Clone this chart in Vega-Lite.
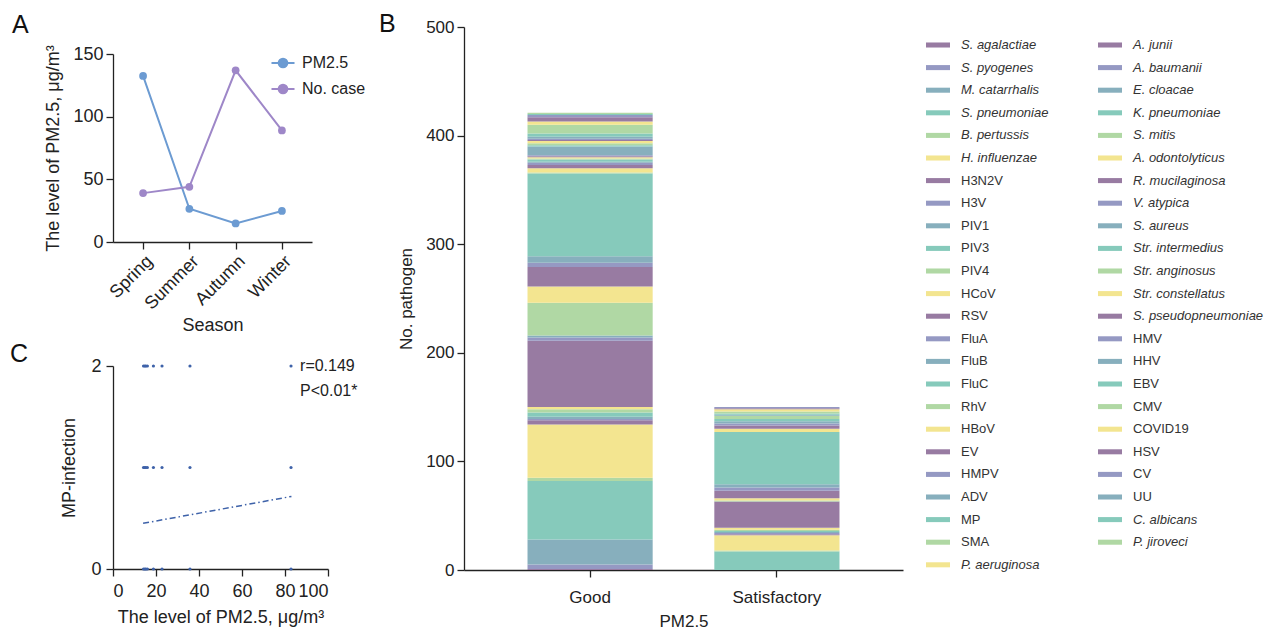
{
  "$schema": "https://vega.github.io/schema/vega-lite/v6.json",
  "padding": {"left": 10, "top": 12, "right": 0, "bottom": 0},
  "background": "white",
  "datasets": {
    "seasons": [
      {"season": "Spring", "series": "PM2.5", "value": 132.5},
      {"season": "Summer", "series": "PM2.5", "value": 26.5},
      {"season": "Autumn", "series": "PM2.5", "value": 14.8},
      {"season": "Winter", "series": "PM2.5", "value": 24.8},
      {"season": "Spring", "series": "No. case", "value": 39},
      {"season": "Summer", "series": "No. case", "value": 44},
      {"season": "Autumn", "series": "No. case", "value": 137},
      {"season": "Winter", "series": "No. case", "value": 89}
    ],
    "points": [
      {"pm": 14.2, "mp": 0}, {"pm": 14.8, "mp": 0}, {"pm": 15.3, "mp": 0}, {"pm": 16.0, "mp": 0},
      {"pm": 18.8, "mp": 0}, {"pm": 22.8, "mp": 0}, {"pm": 35.8, "mp": 0}, {"pm": 82.8, "mp": 0},
      {"pm": 14.2, "mp": 1}, {"pm": 14.8, "mp": 1}, {"pm": 15.3, "mp": 1}, {"pm": 16.0, "mp": 1},
      {"pm": 18.8, "mp": 1}, {"pm": 22.8, "mp": 1}, {"pm": 35.8, "mp": 1}, {"pm": 82.8, "mp": 1},
      {"pm": 14.2, "mp": 2}, {"pm": 14.8, "mp": 2}, {"pm": 15.3, "mp": 2}, {"pm": 16.0, "mp": 2},
      {"pm": 18.8, "mp": 2}, {"pm": 22.8, "mp": 2}, {"pm": 35.8, "mp": 2}, {"pm": 82.8, "mp": 2}
    ],
    "fit": [
      {"pm": 14, "fit": 0.45},
      {"pm": 83, "fit": 0.715}
    ],
    "pathogens": [
      {"level": "Good", "pathogen": "S. agalactiae", "k": 0, "n": 1},
      {"level": "Good", "pathogen": "S. pyogenes", "k": 1, "n": 4},
      {"level": "Good", "pathogen": "M. catarrhalis", "k": 2, "n": 23},
      {"level": "Good", "pathogen": "S. pneumoniae", "k": 3, "n": 54},
      {"level": "Good", "pathogen": "B. pertussis", "k": 4, "n": 3},
      {"level": "Good", "pathogen": "H. influenzae", "k": 5, "n": 49},
      {"level": "Good", "pathogen": "H3N2V", "k": 6, "n": 4},
      {"level": "Good", "pathogen": "H3V", "k": 7, "n": 1},
      {"level": "Good", "pathogen": "PIV1", "k": 8, "n": 2},
      {"level": "Good", "pathogen": "PIV3", "k": 9, "n": 4},
      {"level": "Good", "pathogen": "PIV4", "k": 10, "n": 3},
      {"level": "Good", "pathogen": "HCoV", "k": 11, "n": 2},
      {"level": "Good", "pathogen": "RSV", "k": 12, "n": 61},
      {"level": "Good", "pathogen": "FluA", "k": 13, "n": 3},
      {"level": "Good", "pathogen": "FluB", "k": 14, "n": 2},
      {"level": "Good", "pathogen": "FluC", "k": 15, "n": 0},
      {"level": "Good", "pathogen": "RhV", "k": 16, "n": 30},
      {"level": "Good", "pathogen": "HBoV", "k": 17, "n": 15},
      {"level": "Good", "pathogen": "EV", "k": 18, "n": 18},
      {"level": "Good", "pathogen": "HMPV", "k": 19, "n": 4},
      {"level": "Good", "pathogen": "ADV", "k": 20, "n": 6},
      {"level": "Good", "pathogen": "MP", "k": 21, "n": 76},
      {"level": "Good", "pathogen": "SMA", "k": 22, "n": 1},
      {"level": "Good", "pathogen": "P. aeruginosa", "k": 23, "n": 4},
      {"level": "Good", "pathogen": "A. junii", "k": 24, "n": 3},
      {"level": "Good", "pathogen": "A. baumanii", "k": 25, "n": 2},
      {"level": "Good", "pathogen": "E. cloacae", "k": 26, "n": 1},
      {"level": "Good", "pathogen": "K. pneumoniae", "k": 27, "n": 2},
      {"level": "Good", "pathogen": "S. mitis", "k": 28, "n": 1},
      {"level": "Good", "pathogen": "A. odontolyticus", "k": 29, "n": 1},
      {"level": "Good", "pathogen": "R. mucilaginosa", "k": 30, "n": 1},
      {"level": "Good", "pathogen": "V. atypica", "k": 31, "n": 1},
      {"level": "Good", "pathogen": "S. aureus", "k": 32, "n": 8},
      {"level": "Good", "pathogen": "Str. intermedius", "k": 33, "n": 1},
      {"level": "Good", "pathogen": "Str. anginosus", "k": 34, "n": 2},
      {"level": "Good", "pathogen": "Str. constellatus", "k": 35, "n": 2},
      {"level": "Good", "pathogen": "S. pseudopneumoniae", "k": 36, "n": 1},
      {"level": "Good", "pathogen": "HMV", "k": 37, "n": 1},
      {"level": "Good", "pathogen": "HHV", "k": 38, "n": 2},
      {"level": "Good", "pathogen": "EBV", "k": 39, "n": 3},
      {"level": "Good", "pathogen": "CMV", "k": 40, "n": 8},
      {"level": "Good", "pathogen": "COVID19", "k": 41, "n": 3},
      {"level": "Good", "pathogen": "HSV", "k": 42, "n": 4},
      {"level": "Good", "pathogen": "CV", "k": 43, "n": 2},
      {"level": "Good", "pathogen": "UU", "k": 44, "n": 0},
      {"level": "Good", "pathogen": "C. albicans", "k": 45, "n": 1},
      {"level": "Good", "pathogen": "P. jiroveci", "k": 46, "n": 1},
      {"level": "Satisfactory", "pathogen": "S. agalactiae", "k": 0, "n": 0},
      {"level": "Satisfactory", "pathogen": "S. pyogenes", "k": 1, "n": 0},
      {"level": "Satisfactory", "pathogen": "M. catarrhalis", "k": 2, "n": 0},
      {"level": "Satisfactory", "pathogen": "S. pneumoniae", "k": 3, "n": 17},
      {"level": "Satisfactory", "pathogen": "B. pertussis", "k": 4, "n": 1},
      {"level": "Satisfactory", "pathogen": "H. influenzae", "k": 5, "n": 14},
      {"level": "Satisfactory", "pathogen": "H3N2V", "k": 6, "n": 1},
      {"level": "Satisfactory", "pathogen": "H3V", "k": 7, "n": 1},
      {"level": "Satisfactory", "pathogen": "PIV1", "k": 8, "n": 1},
      {"level": "Satisfactory", "pathogen": "PIV3", "k": 9, "n": 1},
      {"level": "Satisfactory", "pathogen": "PIV4", "k": 10, "n": 1},
      {"level": "Satisfactory", "pathogen": "HCoV", "k": 11, "n": 2},
      {"level": "Satisfactory", "pathogen": "RSV", "k": 12, "n": 24},
      {"level": "Satisfactory", "pathogen": "FluA", "k": 13, "n": 0},
      {"level": "Satisfactory", "pathogen": "FluB", "k": 14, "n": 0},
      {"level": "Satisfactory", "pathogen": "FluC", "k": 15, "n": 0},
      {"level": "Satisfactory", "pathogen": "RhV", "k": 16, "n": 1},
      {"level": "Satisfactory", "pathogen": "HBoV", "k": 17, "n": 2},
      {"level": "Satisfactory", "pathogen": "EV", "k": 18, "n": 7},
      {"level": "Satisfactory", "pathogen": "HMPV", "k": 19, "n": 3},
      {"level": "Satisfactory", "pathogen": "ADV", "k": 20, "n": 3},
      {"level": "Satisfactory", "pathogen": "MP", "k": 21, "n": 48},
      {"level": "Satisfactory", "pathogen": "SMA", "k": 22, "n": 0},
      {"level": "Satisfactory", "pathogen": "P. aeruginosa", "k": 23, "n": 3},
      {"level": "Satisfactory", "pathogen": "A. junii", "k": 24, "n": 3},
      {"level": "Satisfactory", "pathogen": "A. baumanii", "k": 25, "n": 2},
      {"level": "Satisfactory", "pathogen": "E. cloacae", "k": 26, "n": 2},
      {"level": "Satisfactory", "pathogen": "K. pneumoniae", "k": 27, "n": 2},
      {"level": "Satisfactory", "pathogen": "S. mitis", "k": 28, "n": 3},
      {"level": "Satisfactory", "pathogen": "A. odontolyticus", "k": 29, "n": 0},
      {"level": "Satisfactory", "pathogen": "R. mucilaginosa", "k": 30, "n": 0},
      {"level": "Satisfactory", "pathogen": "V. atypica", "k": 31, "n": 0},
      {"level": "Satisfactory", "pathogen": "S. aureus", "k": 32, "n": 1},
      {"level": "Satisfactory", "pathogen": "Str. intermedius", "k": 33, "n": 1},
      {"level": "Satisfactory", "pathogen": "Str. anginosus", "k": 34, "n": 2},
      {"level": "Satisfactory", "pathogen": "Str. constellatus", "k": 35, "n": 2},
      {"level": "Satisfactory", "pathogen": "S. pseudopneumoniae", "k": 36, "n": 0},
      {"level": "Satisfactory", "pathogen": "HMV", "k": 37, "n": 0},
      {"level": "Satisfactory", "pathogen": "HHV", "k": 38, "n": 0},
      {"level": "Satisfactory", "pathogen": "EBV", "k": 39, "n": 0},
      {"level": "Satisfactory", "pathogen": "CMV", "k": 40, "n": 0},
      {"level": "Satisfactory", "pathogen": "COVID19", "k": 41, "n": 0},
      {"level": "Satisfactory", "pathogen": "HSV", "k": 42, "n": 1},
      {"level": "Satisfactory", "pathogen": "CV", "k": 43, "n": 1},
      {"level": "Satisfactory", "pathogen": "UU", "k": 44, "n": 0},
      {"level": "Satisfactory", "pathogen": "C. albicans", "k": 45, "n": 0},
      {"level": "Satisfactory", "pathogen": "P. jiroveci", "k": 46, "n": 0}
    ]
  },
  "hconcat": [
    {
      "vconcat": [
        {
          "width": 199,
          "height": 215,
          "title": {"text": "A", "dx": -101, "offset": -11},
          "data": {"name": "seasons"},
          "mark": {"type": "line", "strokeWidth": 2, "point": {"filled": true, "size": 60}},
          "encoding": {
            "x": {
              "field": "season", "type": "ordinal",
              "sort": ["Spring", "Summer", "Autumn", "Winter"],
              "scale": {"type": "point", "padding": 0.65},
              "axis": {"labelAngle": -45, "title": "Season", "labelPadding": 3, "titlePadding": 4}
            },
            "y": {
              "field": "value", "type": "quantitative",
              "scale": {"domain": [0, 150], "range": [215, 27]},
              "axis": {"values": [0, 50, 100, 150], "title": "The level of PM2.5, μg/m³", "labelPadding": 3, "titlePadding": 10}
            },
            "color": {
              "field": "series", "type": "nominal",
              "scale": {"domain": ["PM2.5", "No. case"], "range": ["#6c9bd2", "#9e87c8"]},
              "legend": {
                "orient": "none", "legendX": 157, "legendY": 23, "title": null, "padding": 0,
                "symbolType": "M-1,0H1M-0.38,0A0.38 0.38 0 1 1 0.38 0A0.38 0.38 0 1 1 -0.38 0Z",
                "symbolSize": 530, "symbolStrokeWidth": 2,
                "labelFontSize": 16, "labelOffset": 6, "rowPadding": 4, "labelColor": "#222",
                "encode": {
                  "symbols": {
                    "update": {
                      "fill": {"signal": "datum.value === 'PM2.5' ? '#6c9bd2' : '#9e87c8'"},
                      "stroke": {"signal": "datum.value === 'PM2.5' ? '#6c9bd2' : '#9e87c8'"},
                      "opacity": {"value": 1}
                    }
                  }
                }
              }
            }
          }
        },
        {
          "width": 215,
          "height": 203,
          "title": {"text": "C", "dx": -103, "offset": 0, "dy": 10},
          "layer": [
            {
              "data": {"name": "points"},
              "mark": {"type": "circle", "size": 10, "color": "#3e62a9", "opacity": 1},
              "encoding": {
                "x": {
                  "field": "pm", "type": "quantitative",
                  "scale": {"domain": [0, 100]},
                  "axis": {"values": [0, 20, 40, 60, 80, 100], "title": "The level of PM2.5, μg/m³", "labelPadding": 6, "titlePadding": 8}
                },
                "y": {
                  "field": "mp", "type": "quantitative",
                  "scale": {"domain": [0, 2]},
                  "axis": {"values": [0, 1, 2], "format": "d", "title": "MP-infection", "labelPadding": 5, "titlePadding": 12}
                }
              }
            },
            {
              "data": {"name": "fit"},
              "mark": {"type": "line", "color": "#3e62a9", "strokeWidth": 1.5, "strokeDash": [6, 3, 1.5, 3]},
              "encoding": {
                "x": {"field": "pm", "type": "quantitative"},
                "y": {"field": "fit", "type": "quantitative"}
              }
            },
            {
              "data": {"values": [{}]},
              "mark": {"type": "text", "text": "r=0.149", "align": "left", "baseline": "middle", "fontSize": 16, "color": "#222"},
              "encoding": {"x": {"datum": 87}, "y": {"datum": 2}}
            },
            {
              "data": {"values": [{}]},
              "mark": {"type": "text", "text": "P<0.01*", "align": "left", "baseline": "middle", "fontSize": 16, "color": "#222"},
              "encoding": {"x": {"datum": 87}, "y": {"datum": 1.75}}
            }
          ]
        }
      ],
      "bounds": "flush",
      "spacing": 124
    },
    {
      "width": 439,
      "height": 543,
      "title": {"text": "B", "dx": -85, "offset": -19},
      "data": {"name": "pathogens"},
      "mark": {"type": "bar"},
      "encoding": {
        "x": {
          "field": "level", "type": "nominal",
          "sort": ["Good", "Satisfactory"],
          "scale": {"paddingInner": 0.33, "paddingOuter": 0.34},
          "axis": {"labelAngle": 0, "title": "PM2.5", "labelFontSize": 17, "titleFontSize": 17, "labelPadding": 12, "titlePadding": 8}
        },
        "y": {
          "field": "n", "type": "quantitative", "stack": "zero",
          "scale": {"domain": [0, 500]},
          "axis": {"values": [0, 100, 200, 300, 400, 500], "title": "No. pathogen", "labelFontSize": 17, "titleFontSize": 17, "labelPadding": 3, "titlePadding": 10}
        },
        "order": {"field": "k", "type": "quantitative", "sort": "ascending"},
        "color": {
          "field": "pathogen", "type": "nominal",
          "scale": {
            "domain": ["S. agalactiae", "S. pyogenes", "M. catarrhalis", "S. pneumoniae", "B. pertussis", "H. influenzae", "H3N2V", "H3V", "PIV1", "PIV3", "PIV4", "HCoV", "RSV", "FluA", "FluB", "FluC", "RhV", "HBoV", "EV", "HMPV", "ADV", "MP", "SMA", "P. aeruginosa", "A. junii", "A. baumanii", "E. cloacae", "K. pneumoniae", "S. mitis", "A. odontolyticus", "R. mucilaginosa", "V. atypica", "S. aureus", "Str. intermedius", "Str. anginosus", "Str. constellatus", "S. pseudopneumoniae", "HMV", "HHV", "EBV", "CMV", "COVID19", "HSV", "CV", "UU", "C. albicans", "P. jiroveci"],
            "range": ["#987ba2", "#9599c3", "#87afbd", "#86cabb", "#b0d8a4", "#f3e590",
                      "#987ba2", "#9599c3", "#87afbd", "#86cabb", "#b0d8a4", "#f3e590",
                      "#987ba2", "#9599c3", "#87afbd", "#86cabb", "#b0d8a4", "#f3e590",
                      "#987ba2", "#9599c3", "#87afbd", "#86cabb", "#b0d8a4", "#f3e590",
                      "#987ba2", "#9599c3", "#87afbd", "#86cabb", "#b0d8a4", "#f3e590",
                      "#987ba2", "#9599c3", "#87afbd", "#86cabb", "#b0d8a4", "#f3e590",
                      "#987ba2", "#9599c3", "#87afbd", "#86cabb", "#b0d8a4", "#f3e590",
                      "#987ba2", "#9599c3", "#87afbd", "#86cabb", "#b0d8a4"]
          },
          "legend": {
            "orient": "none", "legendX": 462, "legendY": 6, "title": null, "padding": 0,
            "columns": 2, "gridAlign": "each", "columnPadding": 49, "rowPadding": 3.6,
            "symbolType": "M-1,-0.21H1V0.21H-1Z", "symbolSize": 576, "symbolStrokeWidth": 0,
            "labelFontSize": 13, "labelOffset": 11, "labelLimit": 250, "symbolLimit": 100, "labelColor": "#333",
            "encode": {
              "labels": {
                "update": {
                  "fontStyle": {"signal": "indexof(datum.value, '.') >= 0 ? 'italic' : 'normal'"}
                }
              }
            }
          }
        }
      }
    }
  ],
  "resolve": {"scale": {"color": "independent"}, "legend": {"color": "independent"}},
  "spacing": 13,
  "config": {
    "font": "Liberation Sans",
    "view": {"stroke": null},
    "axis": {
      "domainColor": "#222", "tickColor": "#222", "labelColor": "#222", "titleColor": "#222",
      "domainWidth": 1.3, "tickWidth": 1.3, "tickSize": 7, "grid": false,
      "titleFontWeight": "normal", "labelFontSize": 18, "titleFontSize": 18
    },
    "title": {"fontWeight": "normal", "fontSize": 25, "anchor": "start", "frame": "group", "baseline": "alphabetic", "color": "#111"}
  }
}
